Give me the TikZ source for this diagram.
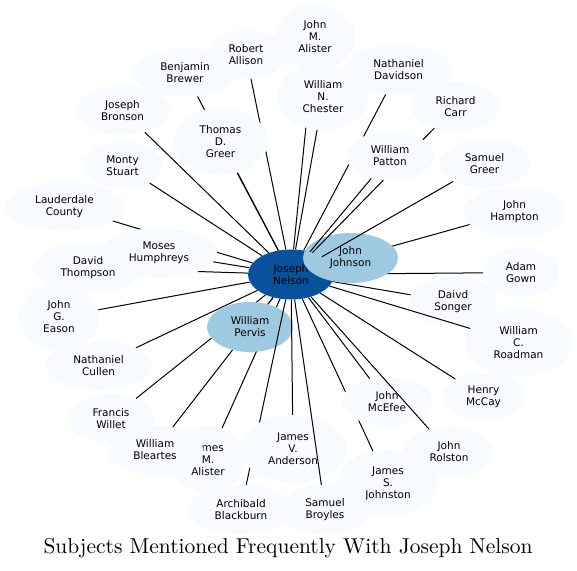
\documentclass[tikz,border=0pt]{standalone}
\usepackage{fontspec}
\newfontfamily\nodefont{DejaVu Sans}
\newfontfamily\titlefont{lmroman10-regular}[Extension=.otf]
\usetikzlibrary{shapes.geometric}
\definecolor{leafc}{HTML}{F7FBFF}
\definecolor{midc}{HTML}{9ECAE1}
\definecolor{hubc}{HTML}{08519C}
\tikzset{
  base/.style={ellipse, inner sep=0pt, draw=none, align=center, text=black,
    font=\nodefont\fontsize{10.5}{12}\selectfont},
  leaf/.style={base, fill=leafc},
  mid/.style={base, fill=midc},
  hub/.style={base, fill=hubc},
  sz/.style 2 args={minimum width=#1pt, minimum height=#2pt},
  link/.style={draw=black, line width=1pt},
}
\begin{document}
\begin{tikzpicture}[x=1pt,y=1pt]
\useasboundingbox (0,0) rectangle (577,570);
\node[hub, sz={86}{50}] (nelson) at (291,295.5) {Joseph\\Nelson};

\node[leaf, sz={80}{66}] (jmal) at (315,533) {John\\M.\\Alister};
\draw[link] (nelson) -- (jmal);
\node[leaf, sz={92}{66}] (chester) at (323,473) {William\\N.\\Chester};
\draw[link] (nelson) -- (chester);
\node[leaf, sz={104}{49}] (brewer) at (185,497.5) {Benjamin\\Brewer};
\draw[link] (nelson) -- (brewer);
\node[leaf, sz={80}{49}] (allison) at (246,515.5) {Robert\\Allison};
\draw[link] (nelson) -- (allison);
\node[leaf, sz={95}{67}] (tgreer) at (220.5,428.5) {Thomas\\D.\\Greer};
\draw[link] (nelson) -- (tgreer);
\node[leaf, sz={95}{49}] (bronson) at (122.5,459.5) {Joseph\\Bronson};
\draw[link] (nelson) -- (bronson);
\node[leaf, sz={79}{48}] (stuart) at (122.5,404.5) {Monty\\Stuart};
\draw[link] (nelson) -- (stuart);
\node[leaf, sz={119}{49}] (lauder) at (64.5,363.5) {Lauderdale\\County};
\draw[link] (nelson) -- (lauder);
\node[leaf, sz={112}{50}] (thompson) at (88,302) {David\\Thompson};
\draw[link] (nelson) -- (thompson);
\node[leaf, sz={116}{50}] (moses) at (159,317) {Moses\\Humphreys};
\draw[link] (nelson) -- (moses);
\node[leaf, sz={80}{67}] (eason) at (59,253) {John\\G.\\Eason};
\draw[link] (nelson) -- (eason);
\node[leaf, sz={107}{49}] (cullen) at (98.5,204.5) {Nathaniel\\Cullen};
\draw[link] (nelson) -- (cullen);
\node[leaf, sz={86}{49}] (willet) at (111,151.5) {Francis\\Willet};
\draw[link] (nelson) -- (willet);
\node[leaf, sz={77}{67}] (jmaltwo) at (208,110.5) {James\\M.\\Alister};
\draw[link] (nelson) -- (jmaltwo);
\node[leaf, sz={96}{49}] (bleartes) at (155,120) {William\\Bleartes};
\draw[link] (nelson) -- (bleartes);
\node[mid, sz={86}{50}] (pervis) at (250,243) {William\\Pervis};
\draw[link] (nelson) -- (pervis);
\node[leaf, sz={106}{49}] (blackburn) at (241,60.5) {Archibald\\Blackburn};
\draw[link] (nelson) -- (blackburn);
\node[leaf, sz={106}{67}] (anderson) at (293,121.5) {James\\V.\\Anderson};
\draw[link] (nelson) -- (anderson);
\node[leaf, sz={101}{67}] (johnston) at (388,86.5) {James\\S.\\Johnston};
\draw[link] (nelson) -- (johnston);
\node[leaf, sz={90}{50}] (broyles) at (325,60) {Samuel\\Broyles};
\draw[link] (nelson) -- (broyles);
\node[leaf, sz={90}{49}] (mcefee) at (387,168.5) {John\\McEfee};
\draw[link] (nelson) -- (mcefee);
\node[leaf, sz={90}{49}] (rolston) at (449,118.5) {John\\Rolston};
\draw[link] (nelson) -- (rolston);
\node[leaf, sz={81}{49}] (mccay) at (483.5,173) {Henry\\McCay};
\draw[link] (nelson) -- (mccay);
\node[leaf, sz={88}{50}] (songer) at (453,268) {Daivd\\Songer};
\draw[link] (nelson) -- (songer);
\node[leaf, sz={107}{67}] (roadman) at (518.5,227) {William\\C.\\Roadman};
\draw[link] (nelson) -- (roadman);
\node[leaf, sz={76}{49}] (gown) at (521,297.5) {Adam\\Gown};
\draw[link] (nelson) -- (gown);
\node[leaf, sz={103}{50}] (hampton) at (514.5,358) {John\\Hampton};
\draw[link] (nelson) -- (hampton);
\node[mid, sz={95}{50}] (johnson) at (350.5,312) {John\\Johnson};
\node[leaf, sz={107}{50}] (davidson) at (398.5,500) {Nathaniel\\Davidson};
\draw[link] (nelson) -- (davidson);
\node[leaf, sz={89}{49}] (carr) at (455.5,463.5) {Richard\\Carr};
\draw[link] (nelson) -- (carr);
\node[leaf, sz={88}{49}] (patton) at (390,414) {William\\Patton};
\draw[link] (nelson) -- (patton);
\node[leaf, sz={91}{49}] (sgreer) at (484.5,406.5) {Samuel\\Greer};
\draw[link] (nelson) -- (sgreer);

\node[inner sep=0pt, font=\titlefont\fontsize{21.5}{26}\selectfont] (title) at (288,22)
  {Subjects Mentioned Frequently With Joseph Nelson};
\end{tikzpicture}
\end{document}
